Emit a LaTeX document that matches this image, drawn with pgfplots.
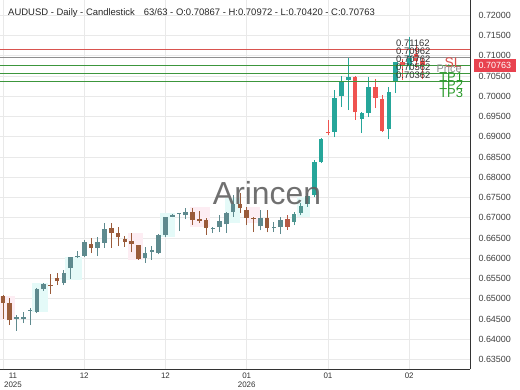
\documentclass[border=0pt]{standalone}
\usepackage{pgfplots}
\pgfplotsset{compat=1.18}
\usepackage{pgfplotstable}
\usepackage{fontspec}
\setmainfont{Liberation Sans}
\definecolor{upB}{HTML}{26A69A}
\definecolor{dnB}{HTML}{EF5350}
\definecolor{upM}{HTML}{4E9690}
\definecolor{dnM}{HTML}{B65A46}
\definecolor{upO}{HTML}{5E8A8E}
\definecolor{dnO}{HTML}{9A5B3A}
\definecolor{gridc}{HTML}{E9E9E9}
\definecolor{cyanb}{HTML}{E4FAF8}
\definecolor{pinkb}{HTML}{FDEDF3}
\definecolor{slred}{RGB}{217,83,79}
\definecolor{lvgrey}{RGB}{143,143,143}
\definecolor{lvgreen}{RGB}{60,150,60}
\definecolor{tpgreen}{RGB}{42,154,42}
\definecolor{pricebox}{HTML}{E8424F}

\pgfplotstableread{
k o h l c
0 0.6508 0.6510 0.6450 0.6490
1 0.6489 0.6502 0.6435 0.6447
2 0.6451 0.6460 0.6421 0.6454
3 0.6450 0.6467 0.6440 0.6454
4 0.6470 0.6477 0.6435 0.6473
5 0.6468 0.6527 0.6465 0.6524
6 0.6524 0.6540 0.6520 0.6537
7 0.6535 0.6561 0.6512 0.6533
8 0.6552 0.6564 0.6535 0.6543
9 0.6539 0.6571 0.6534 0.6564
10 0.6576 0.6603 0.6549 0.6603
11 0.6603 0.6618 0.6600 0.6606
12 0.6606 0.6645 0.6604 0.6640
13 0.6635 0.6650 0.6613 0.6625
14 0.6625 0.6653 0.6606 0.6640
15 0.6638 0.6687 0.6626 0.6672
16 0.6675 0.6687 0.6626 0.6663
17 0.6663 0.6677 0.6630 0.6652
18 0.6648 0.6655 0.6628 0.6641
19 0.6642 0.6662 0.6615 0.6635
20 0.6633 0.6633 0.6596 0.6598
21 0.6601 0.6628 0.6589 0.6613
22 0.6616 0.6630 0.6596 0.6621
23 0.6613 0.6660 0.6610 0.6658
24 0.6658 0.6702 0.6653 0.6702
25 0.6703 0.6710 0.6701 0.6706
26 0.6709 0.6712 0.6667 0.6711
27 0.6706 0.6724 0.6697 0.6714
28 0.6714 0.6724 0.6683 0.6695
29 0.6698 0.6717 0.6687 0.6693
30 0.6695 0.6700 0.6658 0.6675
31 0.6673 0.6678 0.6662 0.6676
32 0.6677 0.6707 0.6665 0.6692
33 0.6684 0.6714 0.6663 0.6712
34 0.6714 0.6756 0.6702 0.6734
35 0.6734 0.6761 0.6712 0.6724
36 0.6719 0.6727 0.6682 0.6700
37 0.6700 0.6702 0.6665 0.6698
38 0.6679 0.6719 0.6669 0.6699
39 0.6700 0.6719 0.6664 0.6675
40 0.6676 0.6690 0.6665 0.6678
41 0.6677 0.6702 0.6660 0.6695
42 0.6697 0.6707 0.6670 0.6678
43 0.6690 0.6714 0.6682 0.6710
44 0.6712 0.6737 0.6707 0.6730
45 0.6734 0.6761 0.6727 0.6754
46 0.6756 0.6843 0.6751 0.6838
47 0.6838 0.6897 0.6835 0.6894
48 0.6913 0.6941 0.6904 0.6909
49 0.6912 0.7016 0.6899 0.6996
50 0.7000 0.7050 0.6974 0.7038
51 0.7040 0.7097 0.6966 0.7047
52 0.7048 0.7050 0.6942 0.6961
53 0.6944 0.6961 0.6909 0.6958
54 0.6959 0.7047 0.6949 0.7023
55 0.7023 0.7043 0.6971 0.6996
56 0.6993 0.7003 0.6912 0.6914
57 0.6919 0.7023 0.6894 0.7011
58 0.7035 0.7085 0.7008 0.7085
59 0.7085 0.7092 0.7040 0.7078
60 0.7078 0.7147 0.7065 0.7100
61 0.7105 0.7125 0.7070 0.7087
62 0.70867 0.70972 0.70420 0.70763
}\ohlc

\newcommand{\candleset}[2]{%
\addplot[forget plot, draw=none, mark=none, error bars/.cd, y dir=plus, y explicit, error mark=none,
  error bar style={draw=#2, line width=0.9bp}]
  table[x=k, y expr={(#1) ? \thisrow{l} : nan}, y error plus expr={\thisrow{h}-\thisrow{l}}] {\ohlc};
\addplot[forget plot, draw=none, mark=none, error bars/.cd, y dir=plus, y explicit, error mark=none,
  error bar style={draw=#2, line width=4.6bp}]
  table[x=k, y expr={(#1) ? min(\thisrow{o},\thisrow{c}) : nan}, y error plus expr={max(abs(\thisrow{c}-\thisrow{o}),0.0001)}] {\ohlc};
}

\begin{document}
\begin{tikzpicture}
\path[use as bounding box] (0,-20.7bp) rectangle (520bp,369.3bp);
\begin{axis}[
  at={(0,0)}, anchor=south west,
  scale only axis, width=470bp, height=369.3bp,
  xmin=-0.443, xmax=68.98, ymin=0.6326, ymax=0.72379,
  axis x line*=bottom, axis y line*=right,
  axis line style={-, draw=black!80, line width=1bp},
  xtick={12,24,36,48,60}, xticklabels={12,12,{01\\2026},01,02},
  extra x ticks={0}, extra x tick labels={{11\\2025}},
  extra x tick style={xticklabel style={xshift=10bp}},
  xticklabel style={align=center, font=\fontsize{8}{9}\selectfont, text=black!80},
  ytick={0.635,0.640,0.645,0.650,0.655,0.660,0.665,0.670,0.675,0.680,0.685,0.690,0.695,0.700,0.705,0.710,0.715,0.720},
  yticklabel style={font=\fontsize{9}{10}\selectfont, text=black!75, xshift=5bp,
    /pgf/number format/fixed, /pgf/number format/fixed zerofill, /pgf/number format/precision=5},
  /pgf/number format/assume math mode=true,
  grid=major, major grid style={draw=gridc, line width=0.7bp},
  major tick length=0pt,
  clip=false,
]
% background trend bands
\addplot[forget plot, draw=none, fill=pinkb] coordinates {(-0.44,0.6448) (1.77,0.6448) (1.77,0.6508) (-0.44,0.6508)} --cycle;
\addplot[forget plot, draw=none, fill=cyanb] coordinates {(4.3,0.6468) (6.6,0.6468) (6.6,0.6539) (4.3,0.6539)} --cycle;
\addplot[forget plot, draw=none, fill=cyanb] coordinates {(9.2,0.6547) (11.7,0.6547) (11.7,0.6603) (9.2,0.6603)} --cycle;
\addplot[forget plot, draw=none, fill=pinkb] coordinates {(18.5,0.6596) (20.7,0.6596) (20.7,0.6663) (18.5,0.6663)} --cycle;
\addplot[forget plot, draw=none, fill=cyanb] coordinates {(23.2,0.6653) (25.4,0.6653) (25.4,0.6712) (23.2,0.6712)} --cycle;
\addplot[forget plot, draw=none, fill=pinkb] coordinates {(27.6,0.6677) (30.6,0.6677) (30.6,0.6727) (27.6,0.6727)} --cycle;
\addplot[forget plot, draw=none, fill=cyanb] coordinates {(32.8,0.6687) (35,0.6687) (35,0.6749) (32.8,0.6749)} --cycle;
\addplot[forget plot, draw=none, fill=pinkb] coordinates {(36,0.6687) (38,0.6687) (38,0.6727) (36,0.6727)} --cycle;
\addplot[forget plot, draw=none, fill=cyanb] coordinates {(43.4,0.6702) (45.3,0.6702) (45.3,0.6751) (43.4,0.6751)} --cycle;
% candles
\candleset{\thisrow{k}<41.5 && \thisrow{c}>=\thisrow{o}}{upO}
\candleset{\thisrow{k}<41.5 && \thisrow{c}<\thisrow{o}}{dnO}
\candleset{\thisrow{k}>41.5 && \thisrow{k}<45.5 && \thisrow{c}>=\thisrow{o}}{upM}
\candleset{\thisrow{k}>41.5 && \thisrow{k}<45.5 && \thisrow{c}<\thisrow{o}}{dnM}
\candleset{\thisrow{k}>45.5 && \thisrow{c}>=\thisrow{o}}{upB}
\candleset{\thisrow{k}>45.5 && \thisrow{c}<\thisrow{o}}{dnB}
% level lines
\addplot[forget plot, color=slred, mark=none, line width=1.1bp] coordinates {(-0.443,0.71162) (68.98,0.71162)};
\addplot[forget plot, color=lvgrey, mark=none, line width=1.1bp] coordinates {(-0.443,0.70962) (68.98,0.70962)};
\addplot[forget plot, color=lvgreen, mark=none, line width=1.1bp] coordinates {(-0.443,0.70762) (68.98,0.70762)};
\addplot[forget plot, color=lvgreen, mark=none, line width=1.1bp] coordinates {(-0.443,0.70562) (68.98,0.70562)};
\addplot[forget plot, color=lvgreen, mark=none, line width=1.1bp] coordinates {(-0.443,0.70362) (68.98,0.70362)};
% level value labels
\node[anchor=base west, inner sep=0pt, font=\fontsize{9.5}{10}\selectfont, text=black!80, yshift=3bp] at (axis cs:58.05,0.71162) {0.71162};
\node[anchor=base west, inner sep=0pt, font=\fontsize{9.5}{10}\selectfont, text=black!80, yshift=3bp] at (axis cs:58.05,0.70962) {0.70962};
\node[anchor=base west, inner sep=0pt, font=\fontsize{9.5}{10}\selectfont, text=black!80, yshift=3bp] at (axis cs:58.05,0.70762) {0.70762};
\node[anchor=base west, inner sep=0pt, font=\fontsize{9.5}{10}\selectfont, text=black!80, yshift=3bp] at (axis cs:58.05,0.70562) {0.70562};
\node[anchor=base west, inner sep=0pt, font=\fontsize{9.5}{10}\selectfont, text=black!80, yshift=3bp] at (axis cs:58.05,0.70362) {0.70362};
% right side labels
\node[font=\fontsize{14}{14}\selectfont, text=slred] at (axis cs:66.5,0.70823) {SL};
\node[font=\fontsize{11}{11}\selectfont, text=lvgrey] at (axis cs:65.9,0.70675) {Price};
\node[font=\fontsize{13}{13}\selectfont, text=tpgreen] at (axis cs:66.2,0.70477) {TP1};
\node[font=\fontsize{13}{13}\selectfont, text=tpgreen] at (axis cs:66.2,0.70279) {TP2};
\node[font=\fontsize{13}{13}\selectfont, text=tpgreen] at (axis cs:66.2,0.70083) {TP3};
% current price box
\node[anchor=west, fill=pricebox, text=white, inner xsep=4.5bp, inner ysep=3bp, xshift=4bp,
  font=\fontsize{9}{10}\selectfont] at (axis cs:68.98,0.70763) {0.70763};
% watermark
\node[anchor=base, font=\fontsize{32}{32}\selectfont, text=black!62, opacity=0.9] at (axis cs:39,0.67317) {Arincen};
% header
\node[anchor=base west, inner sep=0pt, font=\fontsize{9.5}{10}\selectfont, text=black!85, xshift=8bp, yshift=-15.3bp]
  at (rel axis cs:0,1) {AUDUSD - Daily - Candlestick\hspace{9bp}63/63 - O:0.70867 - H:0.70972 - L:0.70420 - C:0.70763};
\end{axis}
\end{tikzpicture}
\end{document}
